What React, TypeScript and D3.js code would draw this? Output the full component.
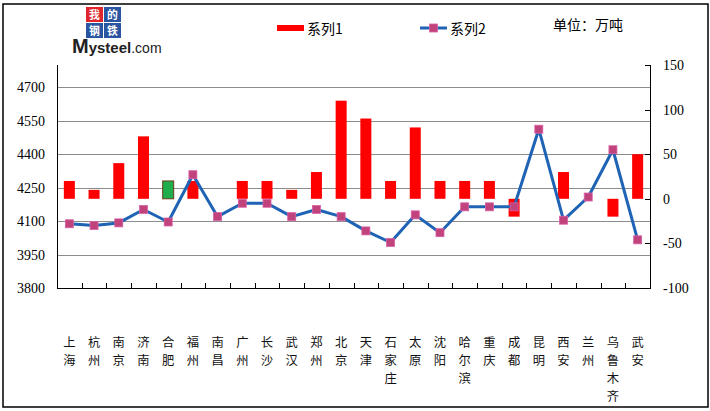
import { useEffect, useRef } from "react";
import * as d3 from "d3";

const cities = [
  "上海", "杭州", "南京", "济南", "合肥", "福州", "南昌", "广州", "长沙", "武汉", "郑州", "北京",
  "天津", "石家庄", "太原", "沈阳", "哈尔滨", "重庆", "成都", "昆明", "西安", "兰州", "乌鲁木齐", "武安",
];
// 系列1 (bars, right axis)
const series1 = [20, 10, 40, 70, 20, 20, 0, 20, 20, 10, 30, 110, 90, 20, 80, 20, 20, 20, -20, 0, 30, 0, -20, 50];
// 系列2 (line, right axis)
const series2 = [-28, -30, -27, -12, -26, 27, -20, -5, -5, -20, -12, -20, -36, -49, -18, -38, -9, -9, -9, 78, -24, 2, 55, -46];
const leftTicks = [3800, 3950, 4100, 4250, 4400, 4550, 4700];
const rightTicks = [-100, -50, 0, 50, 100, 150];
const greenIndex = 4; // 合肥 drawn green

const App = () => {
  const ref = useRef<SVGSVGElement>(null);

  useEffect(() => {
    document.body.style.margin = "0";
    const width = 710;
    const height = 411;
    const svg = d3.select(ref.current);
    svg.selectAll("*").remove();

    const left = 57, right = 650, top = 65, bottom = 288;
    const numFont = "'Liberation Serif', serif";
    const cjk = "'Noto Sans CJK SC', sans-serif";

    const x = d3.scaleBand().domain(cities).range([left, right]);
    const yL = d3.scaleLinear().domain([3800, 4800]).range([bottom, top]);
    const yR = d3.scaleLinear().domain([-100, 150]).range([bottom, top]);

    svg.append("rect").attr("width", width).attr("height", height).attr("fill", "#fff");
    // outer border
    svg.append("rect")
      .attr("x", 3).attr("y", 4).attr("width", 705).attr("height", 403)
      .attr("fill", "none").attr("stroke", "#000").attr("stroke-width", 1.5);

    // gridlines (left axis)
    svg.append("g").selectAll("line").data(leftTicks.slice(1)).join("line")
      .attr("x1", left).attr("x2", right)
      .attr("y1", d => Math.round(yL(d)) + 0.5).attr("y2", d => Math.round(yL(d)) + 0.5)
      .attr("stroke", "#8c8c8c").attr("stroke-width", 1);

    // left axis
    svg.append("line").attr("x1", left + 0.5).attr("x2", left + 0.5).attr("y1", top).attr("y2", bottom)
      .attr("stroke", "#000");
    svg.append("g").selectAll("text").data(leftTicks).join("text")
      .attr("x", 45).attr("y", d => yL(d) + 5)
      .attr("text-anchor", "end").attr("font-family", numFont).attr("font-size", 14)
      .text(d => d);

    // right axis
    svg.append("line").attr("x1", right + 0.5).attr("x2", right + 0.5).attr("y1", top).attr("y2", bottom)
      .attr("stroke", "#000");
    svg.append("g").selectAll("line").data(rightTicks).join("line")
      .attr("x1", right - 5).attr("x2", right)
      .attr("y1", d => Math.round(yR(d)) + 0.5).attr("y2", d => Math.round(yR(d)) + 0.5)
      .attr("stroke", "#000");
    svg.append("g").selectAll("text").data(rightTicks).join("text")
      .attr("x", 663).attr("y", d => yR(d) + 5)
      .attr("font-family", numFont).attr("font-size", 14)
      .text(d => d);

    // x axis
    svg.append("line").attr("x1", left).attr("x2", right + 1).attr("y1", bottom + 0.5).attr("y2", bottom + 0.5)
      .attr("stroke", "#000");
    svg.append("g").selectAll("line").data(cities.slice(1)).join("line")
      .attr("x1", d => Math.round(x(d)!) + 0.5).attr("x2", d => Math.round(x(d)!) + 0.5)
      .attr("y1", bottom - 5).attr("y2", bottom)
      .attr("stroke", "#000");

    // category labels, one character per row
    const lab = svg.append("g").attr("font-family", cjk).attr("font-size", 12.3).attr("text-anchor", "middle")
      .attr("fill", "#111");
    cities.forEach(c => {
      const cx = x(c)! + x.bandwidth() / 2;
      Array.from(c).forEach((ch, k) => {
        lab.append("text").attr("x", cx).attr("y", 346.5 + k * 18).text(ch);
      });
    });

    // bars
    const bw = 11;
    svg.append("g").selectAll("rect").data(series1.map((v, i) => ({ v, i }))).join("rect")
      .filter(d => d.v !== 0)
      .attr("x", d => x(cities[d.i])! + x.bandwidth() / 2 - bw / 2)
      .attr("y", d => yR(Math.max(0, d.v)))
      .attr("width", bw)
      .attr("height", d => Math.abs(yR(d.v) - yR(0)))
      .attr("fill", d => (d.i === greenIndex ? "#1fae4b" : "#ff0000"))
      .attr("stroke", d => (d.i === greenIndex ? "#6b3a1a" : "none"))
      .attr("stroke-width", 1);

    // line
    const line = d3.line<number>()
      .x((_, i) => x(cities[i])! + x.bandwidth() / 2)
      .y(d => yR(d));
    svg.append("path").attr("d", line(series2)!)
      .attr("fill", "none").attr("stroke", "#1f63b4").attr("stroke-width", 3)
      .attr("stroke-linejoin", "round");
    svg.append("g").selectAll("rect").data(series2).join("rect")
      .attr("x", (_, i) => x(cities[i])! + x.bandwidth() / 2 - 4)
      .attr("y", d => yR(d) - 4)
      .attr("width", 8).attr("height", 8)
      .attr("fill", "#c0437b").attr("stroke", "#d860a8").attr("stroke-width", 0.8);

    // legend
    svg.append("rect").attr("x", 277).attr("y", 25).attr("width", 27).attr("height", 6).attr("fill", "#ff0000");
    svg.append("text").attr("x", 307).attr("y", 34).attr("font-family", cjk).attr("font-size", 14).text("系列1");
    svg.append("line").attr("x1", 420).attr("x2", 447).attr("y1", 28).attr("y2", 28)
      .attr("stroke", "#1f63b4").attr("stroke-width", 3);
    svg.append("rect").attr("x", 429.5).attr("y", 24).attr("width", 8).attr("height", 8)
      .attr("fill", "#c0437b").attr("stroke", "#d860a8").attr("stroke-width", 0.8);
    svg.append("text").attr("x", 450).attr("y", 34).attr("font-family", cjk).attr("font-size", 14).text("系列2");
    svg.append("text").attr("x", 553).attr("y", 30).attr("font-family", cjk).attr("font-size", 14).text("单位：万吨");

    // logo
    const logo = svg.append("g");
    const blocks = [
      { ch: "我", bx: 86, by: 7, c: "#e0262b" },
      { ch: "的", bx: 104, by: 7, c: "#2a55a0" },
      { ch: "钢", bx: 86, by: 23, c: "#2a55a0" },
      { ch: "铁", bx: 104, by: 23, c: "#2a55a0" },
    ];
    blocks.forEach(b => {
      logo.append("rect").attr("x", b.bx).attr("y", b.by).attr("width", 17).attr("height", 15).attr("fill", b.c);
      logo.append("text").attr("x", b.bx + 8.5).attr("y", b.by + 12)
        .attr("text-anchor", "middle").attr("font-family", "'Noto Sans CJK SC', serif")
        .attr("font-weight", "bold").attr("font-size", 10.8).attr("fill", "#fff").text(b.ch);
    });
    const mt = logo.append("text").attr("x", 72).attr("y", 53).attr("font-family", "'Liberation Sans', Arial, sans-serif")
      .attr("fill", "#222");
    mt.append("tspan").attr("font-size", 20).attr("font-weight", "bold").text("M");
    mt.append("tspan").attr("font-size", 15).attr("font-weight", "bold").text("ysteel");
    mt.append("tspan").attr("font-size", 14).text(".com");
  }, []);

  return <svg ref={ref} width={710} height={411} style={{ display: "block" }} />;
};

export default App;
